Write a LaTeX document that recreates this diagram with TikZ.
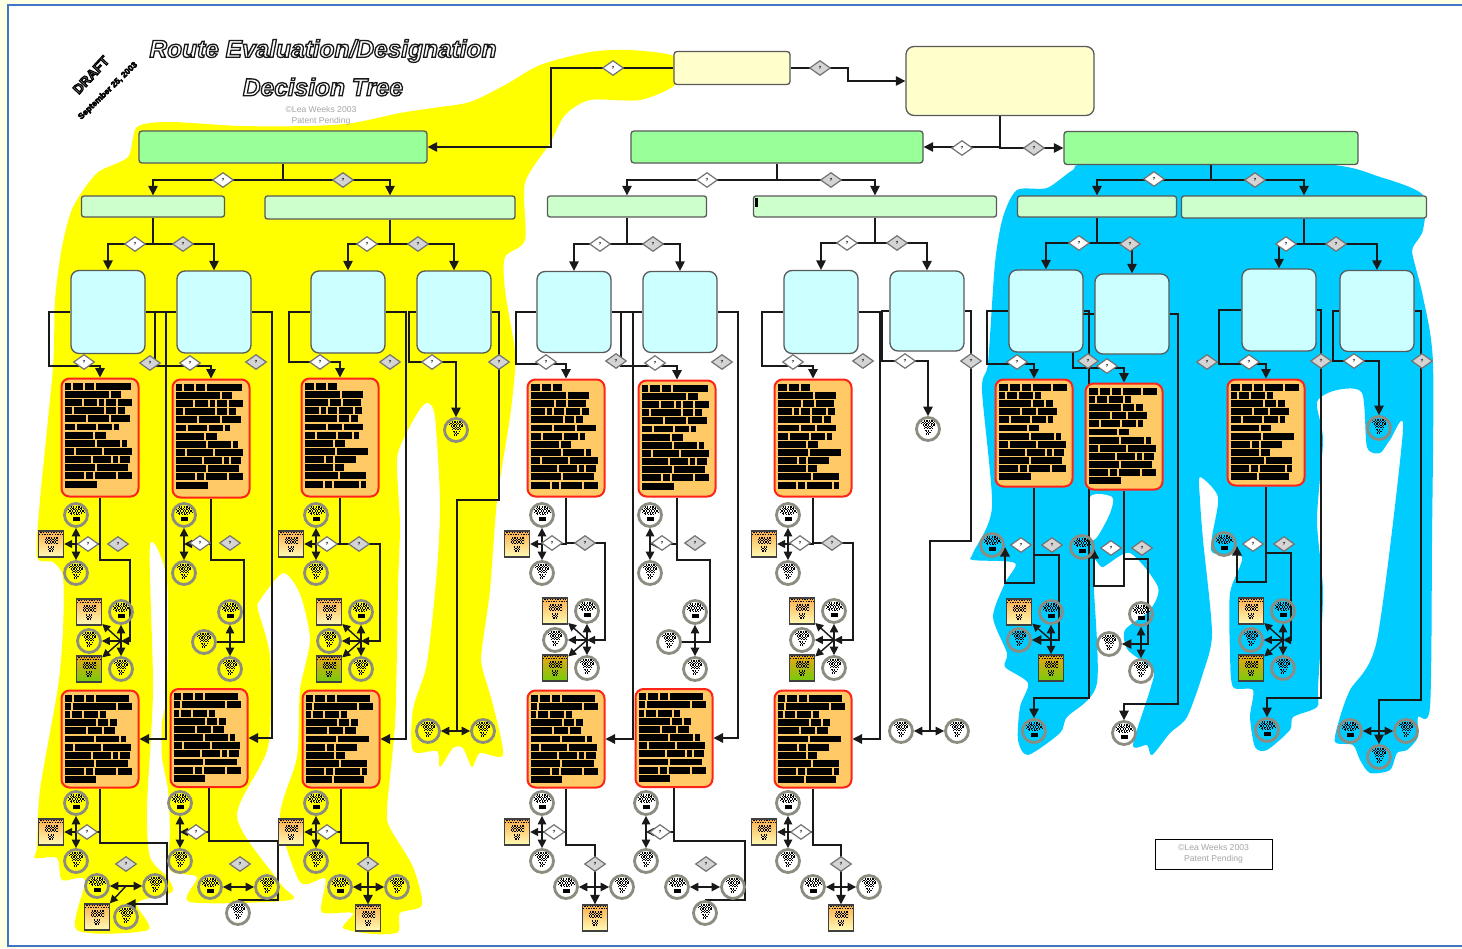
\documentclass[tikz,border=0pt]{standalone}
\usepackage{fontspec}
\setmainfont{Liberation Sans}
\usetikzlibrary{shapes.geometric,shapes.misc,arrows.meta}
\pgfdeclarelayer{blobs}
\pgfdeclarelayer{lines}
\pgfsetlayers{blobs,lines,main}
\definecolor{paperpale}{HTML}{FFFFE4}
\definecolor{framblue}{HTML}{4274C8}
\definecolor{paleyel}{HTML}{FFFFCC}
\definecolor{grn}{HTML}{99FF99}
\definecolor{ltgrn}{HTML}{CCFFCC}
\definecolor{cyn}{HTML}{CCFFFF}
\definecolor{orng}{HTML}{FFC966}
\definecolor{skyb}{HTML}{00CCFF}
\definecolor{ylw}{HTML}{FFFF00}
\definecolor{ringgr}{HTML}{8C8C80}
\definecolor{redbd}{HTML}{FF2418}
\definecolor{notetop}{HTML}{FBB04C}
\definecolor{notelow}{HTML}{FFFCB8}
\definecolor{leaftop}{HTML}{ECA414}
\definecolor{leaflow}{HTML}{74CC0C}
\newcommand{\chk}[2]{\draw[cellrow] ([shift={(-#2/2,#1)}]path picture bounding box.center) -- ++(#2,0);}
\newcommand{\chkb}[2]{\draw[cellrow,dash phase=1.3pt] ([shift={(-#2/2,#1)}]path picture bounding box.center) -- ++(#2,0);}
\newcommand{\sadcells}{\chk{-8}{11}\chkb{-6.7}{15}\chk{-5.4}{16}\chkb{-4.1}{16}\chk{-2.8}{16}\chkb{-1.5}{14}\chk{-0.2}{10}\fill ([shift={(-3.5,2)}]path picture bounding box.center) rectangle ++(7,4);}
\newcommand{\funcells}{\chk{-8}{14}\chkb{-6.7}{14}\chk{-5.4}{14}\chkb{-4.1}{13}\chk{-2.8}{8}\chkb{-1.5}{8}\chk{-0.2}{8}\chkb{1.1}{8}\chk{2.4}{5}\chkb{3.7}{5}\chk{5}{5}}
\newcommand{\notecells}{\chk{-12.5}{24}\chkb{-11.2}{24}\chk{-9.9}{24}\chkb{-6}{13}\chk{-4.7}{13}\chkb{-3.4}{13}\chk{-2.1}{13}\chkb{-0.8}{13}\chk{3}{6}\chkb{4.3}{6}\chk{5.6}{6}\chkb{6.9}{6}}
\newcommand{\redact}[2]{%
  \foreach \row [count=\rw] in #2 {
    \foreach \bw [remember=\nx as \px (initially 0), evaluate=\bw as \nx using \px+\bw+2] in \row
      \fill ([shift={(4.5+\px,5.3+\rw*8.15-8.15)}]#1.north west) rectangle ++(\bw,6.9);
  }}
\newcommand{\splitA}[3]{%
  \begin{scope}[shift={(#2,#3)}]
    \node[sadring] (#1up) at (0,-29) {};
    \node[funring] (#1dn) at (0,29) {};
    \coordinate (#1j) at (0,0);
    \begin{pgfonlayer}{lines}
      \draw[link,twoway] (#1up) -- (#1dn);
    \end{pgfonlayer}
  \end{scope}}
\newcommand{\fanA}[3]{%
  \begin{scope}[shift={(#2,#3)}]
    \node[sadring] (#1up) at (0,-29) {};
    \node[funring] (#1dn) at (0,28) {};
    \node[funring] (#1lf) at (-32,0) {};
    \node[notebox] (#1na) at (-32,-29) {};
    \node[notegreen] (#1nb) at (-32,28) {};
    \coordinate (#1j) at (0,0);
    \begin{pgfonlayer}{lines}
      \draw[link,twoway] (#1up) -- (#1dn);
      \draw[link,arrowsm] (#1j) -- (#1lf);
      \draw[link,arrowsm] (#1j) -- (#1na);
      \draw[link,arrowsm] (#1j) -- (#1nb);
    \end{pgfonlayer}
  \end{scope}}
\newcommand{\fanB}[4]{%
  \begin{scope}[shift={(#2,#3)}]
    \node[sadring] (#1up) at (0,-30) {};
    \node[funring] (#1dn) at (0,27) {};
    \node[funring] (#1lf) at (-#4,0) {};
    \coordinate (#1j) at (0,0);
    \begin{pgfonlayer}{lines}
      \draw[link,twoway] (#1up) -- (#1dn);
    \end{pgfonlayer}
  \end{scope}}
\newcommand{\pairH}[4]{%
  \node[sadring] (#1l) at (#2,#4) {};
  \node[funring] (#1r) at (#3,#4) {};
  \begin{pgfonlayer}{lines}
    \draw[link,twoway] (#1l) -- (#1r);
  \end{pgfonlayer}}
\newcommand{\route}[4]{\draw[link,arrowed] (#1) -| (#2,#3) -| (#4);}
\newcommand{\sideroute}[3]{\draw[link,arrowed] (#1) -| (#2,0 |- #3) -- (#3);}
\newcommand{\branch}[5]{%
  \coordinate (#1f) at (#2,#3);
  \draw[link] (#1.south) -- (#1f);
  \draw[link,arrowed] (#1f) -| (#4.north);
  \draw[link,arrowed] (#1f) -| (#5.north);}
\newcommand{\inkon}[3]{\special{pdf:literal direct 2 Tr #1 w #2 G #3 g}}
\newcommand{\inkoff}{\special{pdf:literal direct 0 Tr 1 w 0 G 0 g}}
\def\txtA{{6,10,9,35},{44,10},{17,13,5,10,14},{7,30,10,7},{21,21,19},{10,19,14,5},{28,11},{30,23,5},{9,26,28},{26,18,5,10},{30,31},{19,7,21,14},{32}}
\def\txtB{{9,10,9},{35,21},{23,11,18},{14,5,9,14,7},{32,10,7},{21,14,19},{10,19,14,5},{28,10},{30,31},{19,7,21},{28,9},{33,26},{18,7,25,5}}
\def\txtC{{9,9,9},{35,21},{23,10,18},{14,5,10,14,7},{32,9,7},{21,21,19},{10,19,14,5},{28,10},{30,21,5},{9,26,28},{26,18,5,10},{30,31},{19,7,21,14}}
\def\txtD{{9,10,9,18,14},{6,10,14,6},{32,11,7},{21,14,19},{10,19,14,5},{28,10},{30,23,5},{9,26,28},{26,18,5,10},{30,31},{19,7,21,14},{32}}
\def\txtE{{9,10,9,18,14},{6,10,14,6},{32,11,7},{21,14,19},{10,19,14,5},{28,10},{30,31},{19,7,21},{28,9},{33,26},{18,7,25,5},{26,30}}
\def\txtF{{7,10,8,33},{6,43,14},{5,10,14,6},{31,10,7},{21,14,11},{29,23,5},{8,26,28},{26,18,5,10},{29,32},{19,7,21,14},{31}}
\def\txtG{{7,10,8,33},{6,43,14},{5,10,14,6},{31,10,7},{21,14,11},{30,31},{19,7,21},{28,9},{33,26},{18,7,25,5},{26,30}}
\begin{document}
\begin{tikzpicture}[
  x=1pt,y=-1pt,
  link/.style={line width=1.4pt,black!90},
  arrowed/.style={-{Triangle[length=9.5pt,width=9.5pt]}},
  arrowsm/.style={-{Triangle[length=8pt,width=8pt]}},
  twoway/.style={{Triangle[length=8.5pt,width=8.5pt]}-{Triangle[length=8.5pt,width=8.5pt]}},
  cellrow/.style={line width=1.2pt,dash pattern=on 1.3pt off 1.3pt,black},
  flowbox/.style={rectangle,draw=black!65,line width=1.3pt,inner sep=0pt},
  topbox/.style={flowbox,fill=paleyel,rounded corners=3pt},
  rootbox/.style={flowbox,fill=paleyel,rounded corners=8pt},
  greenbox/.style={flowbox,fill=grn,rounded corners=3pt},
  ltbox/.style={flowbox,fill=ltgrn,rounded corners=2.5pt},
  cyanbox/.style={flowbox,fill=cyn,rounded corners=8pt,minimum width=74pt},
  orangebox/.style={rectangle,draw=redbd,fill=orng,line width=2pt,rounded corners=8pt,inner sep=0pt,minimum width=77pt},
  askwhite/.style={diamond,draw=black!55,fill=white,line width=1.2pt,inner sep=0pt,aspect=1.35,minimum width=21pt,minimum height=15pt,font=\fontsize{4.5}{5}\selectfont\bfseries},
  askgrey/.style={askwhite,fill=black!17},
  ringnode/.style={circle,draw=ringgr,line width=2.8pt,minimum size=23pt,inner sep=0pt},
  sadring/.style={ringnode,path picture={\sadcells}},
  funring/.style={ringnode,path picture={\funcells}},
  notebox/.style={chamfered rectangle,chamfered rectangle corners=south east,chamfered rectangle xsep=3.5pt,chamfered rectangle ysep=3.5pt,draw=black!75,line width=1.4pt,minimum width=25pt,minimum height=26pt,inner sep=0pt,top color=notetop,bottom color=notelow,path picture={\notecells}},
  notegreen/.style={notebox,top color=leaftop,bottom color=leaflow},
  titletext/.style={font=\fontsize{24.5}{26}\selectfont\bfseries\itshape},
  inktext/.style={font=\fontsize{8.6}{11}\selectfont,text=black!35,align=center}
]
  \useasboundingbox (0,0) rectangle (1462,948);
  \begin{pgfonlayer}{blobs}
    \fill[paperpale] (0,0) rectangle (1462,948);
    \fill[white] (8,5) rectangle (1462,946);
    \draw[framblue,line width=2pt] (1462,5) -- (8,5) -- (8,946) -- (1462,946);
    \fill[ylw] plot[smooth cycle,tension=0.45] coordinates {(137,127) (170,122) (240,126) (310,126) (353,123) (400,113) (433,108) (470,102) (505,85) (540,65) (590,52) (630,50) (676,57) (676,84) (640,100) (590,100) (565,115) (550,143) (525,183) (525,240) (505,257) (505,290) (515,350) (515,371) (510,417) (497,501) (490,590) (482,648) (482,667) (493,705) (503,755) (480,753) (472,767) (463,748) (453,748) (440,767) (437,751) (413,751) (413,709) (427,663) (437,570) (440,501) (435,417) (428,403) (420,409) (407,432) (397,459) (400,525) (398,586) (397,648) (395,725) (387,809) (390,828) (413,867) (422,905) (400,913) (398,932) (373,934) (343,928) (353,913) (323,913) (322,901) (325,878) (300,882) (280,817) (297,757) (300,690) (310,640) (300,594) (283,573) (260,600) (258,610) (270,657) (268,747) (237,817) (280,883) (290,900) (190,902) (197,877) (170,870) (170,830) (168,790) (162,757) (162,723) (167,690) (167,580) (150,545) (153,690) (147,807) (150,857) (167,877) (172,892) (137,903) (148,930) (77,930) (85,880) (62,880) (57,858) (35,858) (37,847) (40,790) (58,687) (63,630) (63,577) (53,562) (37,557) (40,500) (53,367) (55,300) (62,247) (73,207) (97,173) (128,157)};
    \fill[skyb] plot[smooth cycle,tension=0.45] coordinates {(1095,164) (1320,164) (1380,177) (1423,195) (1423,230) (1413,247) (1413,257) (1423,297) (1433,363) (1432,540) (1430,707) (1418,717) (1418,737) (1407,750) (1397,753) (1390,770) (1370,773) (1360,760) (1353,745) (1335,742) (1340,717) (1350,690) (1377,640) (1403,430) (1390,440) (1380,453) (1367,447) (1362,393) (1337,390) (1317,402) (1323,440) (1317,520) (1323,593) (1318,687) (1317,707) (1293,717) (1290,730) (1267,750) (1255,747) (1250,717) (1253,690) (1233,687) (1230,653) (1230,593) (1242,557) (1213,553) (1212,537) (1218,497) (1200,477) (1200,500) (1203,540) (1212,633) (1203,673) (1187,717) (1170,733) (1152,755) (1147,745) (1133,745) (1150,690) (1153,670) (1128,650) (1125,630) (1150,610) (1158,587) (1130,553) (1103,567) (1093,565) (1097,683) (1067,717) (1060,733) (1028,755) (1018,740) (1020,707) (1028,683) (1005,667) (1007,653) (993,617) (1005,583) (1015,563) (973,560) (973,553) (992,507) (982,390) (988,363) (995,263) (1003,217) (1017,190) (1047,188) (1073,170)};
    \fill[white] plot[smooth cycle,tension=0.5] coordinates {(1090,497) (1112,497) (1110,513) (1097,537) (1090,537)};
  \end{pgfonlayer}

  \node[titletext] (ttlA) at (323,51) {\inkon{1.3}{0.1}{1}Route Evaluation/Designation\inkoff};
  \node[titletext] (ttlB) at (323,87) {\inkon{1.3}{0.1}{1}Decision Tree\inkoff};
  \node[rotate=47,font=\fontsize{13.5}{14}\selectfont\bfseries] (draft) at (91,75) {\inkon{1}{0}{0.45}DRAFT\inkoff};
  \node[rotate=44,font=\fontsize{8.4}{9}\selectfont\bfseries] (dated) at (108,91) {\inkon{0.5}{0}{0}September 25, 2003\inkoff};
  \node[inktext] (copyA) at (321,109) {©Lea Weeks 2003};
  \node[inktext] (copyB) at (321,121) {Patent Pending};
  \node[rectangle,draw=black,line width=0.9pt,minimum width=117pt,minimum height=30pt,inner sep=0pt,fill=white,inktext] (copyC) at (1213.5,854) {©Lea Weeks 2003\\Patent Pending};

  \node[topbox,minimum width=116pt,minimum height=33pt] (b0) at (732,68) {};
  \node[rootbox,minimum width=188pt,minimum height=69pt] (root) at (1000,81) {};
  \node[greenbox,minimum width=288pt,minimum height=32pt] (g1) at (283,147) {};
  \node[greenbox,minimum width=292pt,minimum height=32pt] (g2) at (777,147) {};
  \node[greenbox,minimum width=294pt,minimum height=33pt] (g3) at (1211,148) {};
  \node[ltbox,minimum width=143pt,minimum height=21pt] (l1) at (153,206.5) {};
  \node[ltbox,minimum width=250pt,minimum height=23pt] (l2) at (390,207.5) {};
  \node[ltbox,minimum width=159pt,minimum height=21pt] (l3) at (627,206.5) {};
  \node[ltbox,minimum width=243pt,minimum height=21pt] (l4) at (875,206.5) {};
  \node[ltbox,minimum width=159pt,minimum height=21pt] (l5) at (1097,206.5) {};
  \node[ltbox,minimum width=245pt,minimum height=22pt] (l6) at (1304,207) {};
  \fill (755,198) rectangle (758,207);

  \node[cyanbox,minimum height=83pt] (c1) at (108,312) {};
  \node[cyanbox,minimum height=82pt] (c2) at (214,312) {};
  \node[cyanbox,minimum height=82pt] (c3) at (348,312) {};
  \node[cyanbox,minimum height=82pt] (c4) at (454,312) {};
  \node[cyanbox,minimum height=81pt] (c5) at (574,312) {};
  \node[cyanbox,minimum height=81pt] (c6) at (680,312) {};
  \node[cyanbox,minimum height=83pt] (c7) at (821,312) {};
  \node[cyanbox,minimum height=80pt] (c8) at (927,311) {};
  \node[cyanbox,minimum height=82pt] (c9) at (1046,311) {};
  \node[cyanbox,minimum height=80pt] (c10) at (1132,314) {};
  \node[cyanbox,minimum height=82pt] (c11) at (1279,310) {};
  \node[cyanbox,minimum height=81pt] (c12) at (1377,311) {};

  \node[orangebox,minimum height=118pt] (o1) at (100,437.5) {};
  \node[orangebox,minimum height=118pt] (o2) at (211,438.5) {};
  \node[orangebox,minimum height=118pt] (o3) at (340,437.5) {};
  \node[orangebox,minimum height=117pt] (o4) at (566,438) {};
  \node[orangebox,minimum height=116pt] (o5) at (677,438.5) {};
  \node[orangebox,minimum height=117pt] (o6) at (813,438) {};
  \node[orangebox,minimum height=107pt] (o7) at (1034,433) {};
  \node[orangebox,minimum height=106pt] (o8) at (1124,436.5) {};
  \node[orangebox,minimum height=106pt] (o9) at (1266,432.5) {};
  \node[orangebox,minimum height=97pt] (o10) at (100,739) {};
  \node[orangebox,minimum height=98pt] (o11) at (209,738) {};
  \node[orangebox,minimum height=97pt] (o12) at (341,739) {};
  \node[orangebox,minimum height=97pt] (o13) at (566,739) {};
  \node[orangebox,minimum height=98pt] (o14) at (674,738) {};
  \node[orangebox,minimum height=97pt] (o15) at (813,739) {};
  \redact{o1}{\txtA}
  \redact{o2}{\txtA}
  \redact{o3}{\txtB}
  \redact{o4}{\txtC}
  \redact{o5}{\txtA}
  \redact{o6}{\txtB}
  \redact{o7}{\txtD}
  \redact{o8}{\txtD}
  \redact{o9}{\txtE}
  \redact{o10}{\txtF}
  \redact{o11}{\txtF}
  \redact{o12}{\txtG}
  \redact{o13}{\txtF}
  \redact{o14}{\txtF}
  \redact{o15}{\txtG}

  \splitA{a1}{76}{544}
  \splitA{a2}{184}{544}
  \splitA{a3}{316}{544}
  \splitA{a4}{542}{544}
  \splitA{a5}{650}{544}
  \splitA{a6}{788}{544}
  \splitA{q1}{76}{832}
  \splitA{q2}{180}{832}
  \splitA{q3}{316}{832}
  \splitA{q4}{542}{832}
  \splitA{q5}{646}{832}
  \splitA{q6}{788}{832}
  \node[notebox] (na1) at (51,544) {};
  \node[notebox] (na3) at (291,544) {};
  \node[notebox] (na4) at (517,544) {};
  \node[notebox] (na6) at (764,544) {};
  \node[notebox] (nq1) at (51,832) {};
  \node[notebox] (nq3) at (291,832) {};
  \node[notebox] (nq4) at (517,832) {};
  \node[notebox] (nq6) at (764,832) {};

  \fanA{f1}{121}{641}
  \fanA{f3}{361}{641}
  \fanA{f4}{587}{640}
  \fanA{f6}{834}{640}
  \fanA{f9}{1283}{640}
  \fanB{f2}{230}{642}{26}
  \fanB{f5}{695}{642}{26}
  \fanB{f8}{1141}{644}{32}
  \node[sadring] (f7up) at (1051,612) {};
  \node[funring] (f7lf) at (1019,640) {};
  \node[notebox] (f7na) at (1019,612) {};
  \node[notegreen] (f7nb) at (1051,668) {};
  \coordinate (f7j) at (1051,640);

  \pairH{p1}{97}{155}{886}
  \pairH{p2}{210}{267}{887}
  \pairH{p3}{340}{397}{887}
  \pairH{p4}{566}{622}{887}
  \pairH{p5}{677}{733}{887}
  \pairH{p6}{813}{869}{887}
  \node[funring] (p7l) at (428,731) {};
  \node[funring] (p7r) at (483,731) {};
  \node[funring] (p8l) at (901,731) {};
  \node[funring] (p8r) at (957,731) {};
  \pairH{p9}{1350}{1406}{731}
  \node[notebox] (e1n) at (97,917) {};
  \node[funring] (e1c) at (126,917) {};
  \node[funring] (e2c) at (238,913) {};
  \node[notebox] (e3n) at (368,918) {};
  \node[notebox] (e4n) at (595,918) {};
  \node[funring] (e5c) at (705,913) {};
  \node[notebox] (e6n) at (841,918) {};
  \node[funring] (e9c) at (1379,757) {};
  \coordinate (e1j) at (126,886);
  \node[funring] (r4) at (456,430) {};
  \node[funring] (r8) at (928,429) {};
  \node[funring] (r12) at (1379,428) {};
  \node[sadring] (s9) at (1034,731) {};
  \node[sadring] (s10) at (1124,733) {};
  \node[sadring] (s11) at (1267,730) {};
  \node[sadring] (t7) at (992,545) {};
  \node[sadring] (t8) at (1082,547) {};
  \node[sadring] (t9) at (1224,544) {};
  \coordinate (t7e) at (1005,547);
  \coordinate (t8e) at (1094,549);
  \coordinate (t9e) at (1237,546);

  \foreach \x/\y [count=\i] in {613/68,962/148,223/180,707/180,1154/179,135/244,367/244,600/244,847/243,1079/243,1286/244,84/362,190/363,320/362,432/362,546/362,655/363,793/362,905/361,1017/362,1107/366,1249/362,1354/361,88/544,200/543,327/544,552/543,662/543,800/543,1021/545,1111/548,1253/544,87/832,196/832,327/832,554/832,660/832,801/832}
    \node[askwhite] (dw\i) at (\x,\y) {?};
  \foreach \x/\y [count=\i] in {820/68,1034/148,343/180,831/180,1255/180,183/244,418/244,653/244,897/243,1130/244,1336/244,150/363,256/362,390/362,499/362,616/361,722/362,863/361,971/361,1088/361,1207/362,1321/361,1422/361,118/544,230/543,359/544,585/543,695/543,832/543,1052/545,1142/548,1284/544,126/864,240/864,368/864,595/864,706/864,841/864}
    \node[askgrey] (dg\i) at (\x,\y) {?};

  \begin{pgfonlayer}{lines}
    \draw[link,arrowed] (b0.west) -| (551,147) -- (g1.east);
    \draw[link,arrowed] (b0.east) -- (848,68) |- (root.west);
    \draw[link,arrowed] (root.south) |- (g2.east);
    \draw[link,arrowed] (root.south) |- (g3.west);
    \branch{g1}{283}{180}{l1}{l2}
    \branch{g2}{777}{180}{l3}{l4}
    \branch{g3}{1211}{180}{l5}{l6}
    \branch{l1}{153}{244}{c1}{c2}
    \branch{l2}{390}{244}{c3}{c4}
    \branch{l3}{627}{244}{c5}{c6}
    \branch{l4}{875}{243}{c7}{c8}
    \branch{l5}{1097}{243}{c9}{c10}
    \branch{l6}{1304}{244}{c11}{c12}

    \route{c1.west}{49}{366}{o1.north}
    \route{c2.west}{155}{366}{o2.north}
    \route{c3.west}{289}{362}{o3.north}
    \route{c4.west}{409}{362}{r4.north}
    \route{c5.west}{516}{364}{o4.north}
    \route{c6.west}{621}{366}{o5.north}
    \route{c7.west}{762}{366}{o6.north}
    \route{c8.west}{882}{361}{r8.north}
    \route{c9.west}{987}{364}{o7.north}
    \route{c10.west}{1073}{368}{o8.north}
    \route{c11.west}{1219}{364}{o9.north}
    \route{c12.west}{1333}{361}{r12.north}
    \sideroute{c1.east}{166}{o10.east}
    \sideroute{c2.east}{272}{o11.east}
    \sideroute{c3.east}{406}{o12.east}
    \sideroute{c5.east}{633}{o13.east}
    \sideroute{c6.east}{738}{o14.east}
    \sideroute{c7.east}{880}{o15.east}
    \draw[link] (c4.east) -| (499,500) -| (457,731);
    \draw[link] (c8.east) -| (971,541) -| (930,731);
    \route{c9.east}{1089}{698}{s9.north}
    \route{c10.east}{1178}{704}{s10.north}
    \route{c11.east}{1321}{698}{s11.north}
    \route{c12.east}{1421}{700}{e9c.north}
    \draw[link,twoway] (p7l) -- (p7r);
    \draw[link,twoway] (p8l) -- (p8r);

    \draw[link] (o1.south) |- (a1j);
    \draw[link,arrowsm] (a1j) -- (na1);
    \draw[link,arrowsm] (o1.south) |- (130,560) |- (f1j);
    \draw[link,arrowsm] (o2.south) |- (a2j);
    \draw[link] (o2.south) |- (244,560) |- (f2lf);
    \draw[link] (o3.south) |- (a3j);
    \draw[link,arrowsm] (a3j) -- (na3);
    \draw[link,arrowsm] (o3.south) |- (380,544) |- (f3j);
    \draw[link] (o4.south) |- (a4j);
    \draw[link,arrowsm] (a4j) -- (na4);
    \draw[link,arrowsm] (o4.south) |- (605,543) |- (f4j);
    \draw[link,arrowsm] (o5.south) |- (a5j);
    \draw[link] (o5.south) |- (710,560) |- (f5lf);
    \draw[link] (o6.south) |- (a6j);
    \draw[link,arrowsm] (a6j) -- (na6);
    \draw[link,arrowsm] (o6.south) |- (853,543) |- (f6j);

    \draw[link,arrowed] (o7.south) |- (1005,583) -- (t7e);
    \draw[link,arrowed] (o7.south) |- (1059,555) |- (f7lf);
    \draw[link,twoway] (f7up) -- (f7nb);
    \draw[link,arrowsm] (f7j) -- (f7na);
    \draw[link,arrowed] (o8.south) |- (1094,586) -- (t8e);
    \draw[link,arrowed] (o8.south) |- (1148,559) |- (f8lf);
    \draw[link,arrowed] (o9.south) |- (1237,582) -- (t9e);
    \draw[link,arrowsm] (o9.south) |- (1291,553) |- (f9j);

    \draw[link] (o10.south) |- (q1j);
    \draw[link,arrowsm] (q1j) -- (nq1);
    \draw[link,arrowed] (o10.south) |- (167,843) |- (e1c.north);
    \draw[link,arrowsm] (e1j) -- (e1n);
    \draw[link,arrowsm] (o11.south) |- (q2j);
    \draw[link] (o11.south) |- (278,841) |- (e2c.north);
    \draw[link] (o12.south) |- (q3j);
    \draw[link,arrowsm] (q3j) -- (nq3);
    \draw[link,arrowed] (o12.south) |- (368,843) -- (e3n.north);
    \draw[link] (o13.south) |- (q4j);
    \draw[link,arrowsm] (q4j) -- (nq4);
    \draw[link,arrowed] (o13.south) |- (595,845) -- (e4n.north);
    \draw[link,arrowsm] (o14.south) |- (q5j);
    \draw[link] (o14.south) |- (745,841) |- (e5c.north);
    \draw[link] (o15.south) |- (q6j);
    \draw[link,arrowsm] (q6j) -- (nq6);
    \draw[link,arrowed] (o15.south) |- (841,845) -- (e6n.north);
  \end{pgfonlayer}
\end{tikzpicture}
\end{document}
